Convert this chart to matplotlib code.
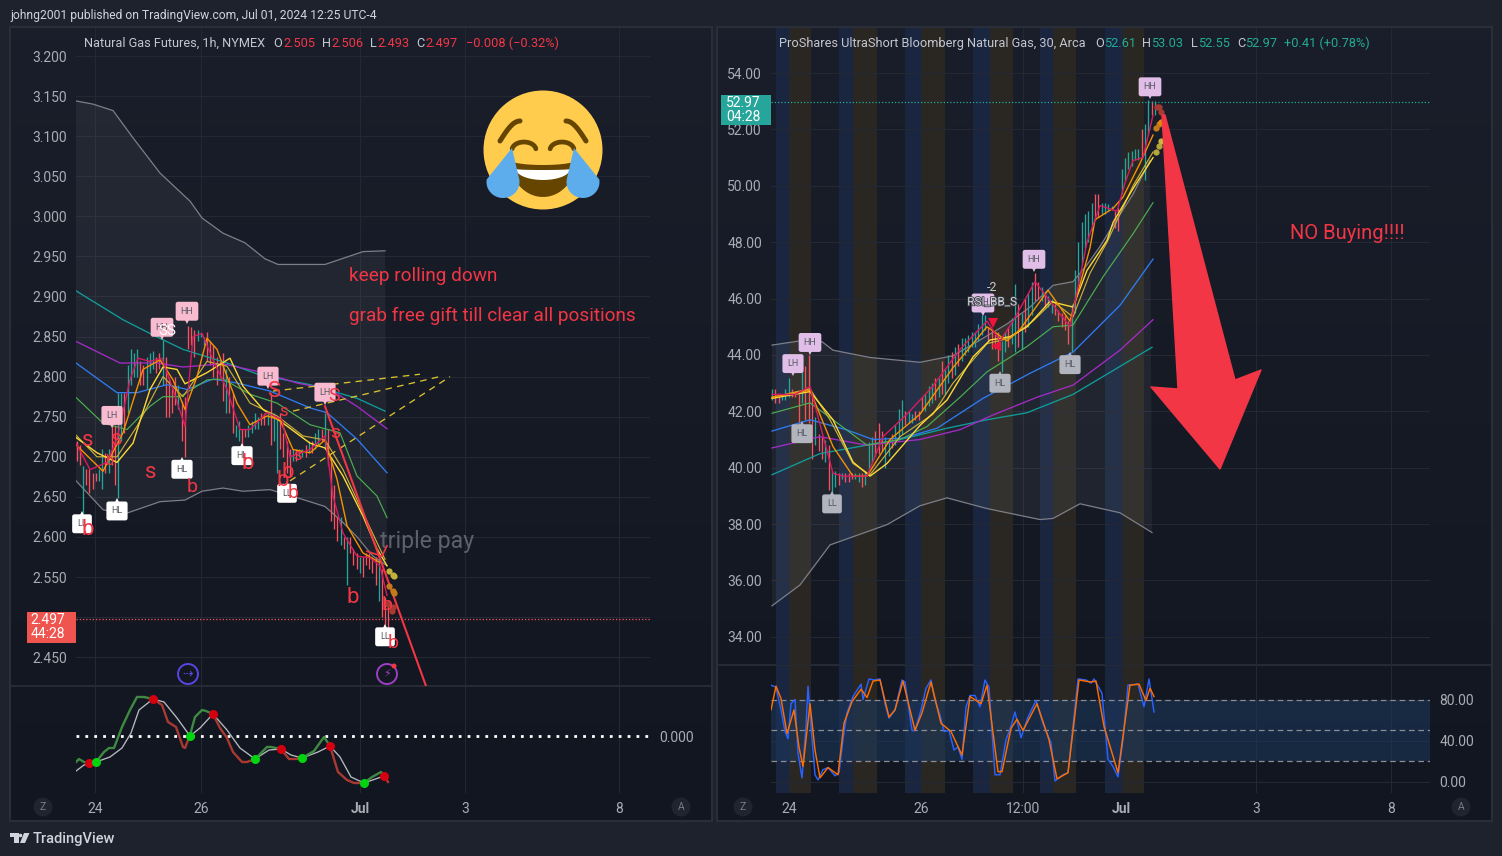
import numpy as np
import matplotlib
matplotlib.use("Agg")
import matplotlib.pyplot as plt
import matplotlib.patheffects as pe
import matplotlib.transforms as mtrans
from matplotlib.patches import Circle, Polygon, Rectangle

W, H = 1502, 856
plt.rcParams['font.family'] = ['Roboto', 'DejaVu Sans']

GRID = "#242833"
TICK = "#a9acb5"
RED = "#f23645"
TEAL = "#22ab94"
BAR_UP = "#26a69a"
BAR_DOWN = "#f7525f"

# ---- left chart, x = bar slot counted from the 24 tick
l_ticks = [0, 106, 265, 370, 524]
l_tick_labels = ["24", "26", "Jul", "3", "8"]
l_prices = [3.2, 3.15, 3.1, 3.05, 3.0, 2.95, 2.9, 2.85, 2.8, 2.75, 2.7, 2.65, 2.6, 2.55, 2.5, 2.45]
l_price_labels = ["3.200", "3.150", "3.100", "3.050", "3.000", "2.950", "2.900", "2.850", "2.800",
                  "2.750", "2.700", "2.650", "2.600", "2.550", "", "2.450"]

l_high = [2.72, 2.715, 2.689, 2.685, 2.685, 2.68, 2.68, 2.685, 2.71, 2.705, 2.71, 2.74, 2.74, 2.78, 2.78, 2.78,
          2.815, 2.835, 2.83, 2.835, 2.82, 2.815, 2.825, 2.83, 2.832, 2.825, 2.83, 2.846, 2.825, 2.8, 2.79, 2.8,
          2.79, 2.77, 2.775, 2.863, 2.862, 2.858, 2.858, 2.855, 2.85, 2.856, 2.845, 2.84, 2.825, 2.82, 2.83, 2.81,
          2.8, 2.78, 2.74, 2.745, 2.735, 2.735, 2.74, 2.745, 2.755, 2.75, 2.755, 2.755, 2.755, 2.78, 2.755, 2.75,
          2.755, 2.73, 2.72, 2.71, 2.71, 2.71, 2.71, 2.71, 2.715, 2.72, 2.72, 2.73, 2.735, 2.735, 2.755, 2.735,
          2.7, 2.665, 2.625, 2.625, 2.6, 2.6, 2.6, 2.585, 2.58, 2.575, 2.575, 2.58, 2.58, 2.575, 2.575, 2.575,
          2.56, 2.525, 2.52]
l_low = [2.695, 2.69, 2.63, 2.665, 2.655, 2.66, 2.67, 2.67, 2.66, 2.68, 2.68, 2.69, 2.665, 2.648, 2.72, 2.73,
         2.755, 2.79, 2.8, 2.8, 2.79, 2.79, 2.785, 2.805, 2.81, 2.805, 2.81, 2.79, 2.75, 2.75, 2.755, 2.765,
         2.76, 2.72, 2.7, 2.835, 2.84, 2.825, 2.845, 2.85, 2.84, 2.82, 2.815, 2.8, 2.79, 2.8, 2.77, 2.755,
         2.755, 2.73, 2.725, 2.72, 2.7, 2.725, 2.725, 2.73, 2.735, 2.735, 2.74, 2.74, 2.74, 2.715, 2.72, 2.68,
         2.71, 2.7, 2.68, 2.675, 2.695, 2.695, 2.7, 2.7, 2.7, 2.705, 2.705, 2.71, 2.715, 2.72, 2.71, 2.69,
         2.62, 2.61, 2.595, 2.59, 2.585, 2.54, 2.58, 2.565, 2.56, 2.555, 2.55, 2.565, 2.56, 2.555, 2.54, 2.52,
         2.5, 2.49, 2.48]
# u = up bar, d = down bar
l_dir = ("ddudddduud" "udduuduuuu" "dduuuddudd" "dduddddduu" "uddddddudd"
         "uudduuuudd" "uduuddddud" "uududuudud" "dddududddu" "ddddduddd")

l_up_x = [-19, -2, 18, 38, 65, 95, 107, 128, 150, 170, 183, 230, 268, 290]
l_up_y = [3.144, 3.14, 3.132, 3.098, 3.054, 3.019, 2.998, 2.979, 2.967, 2.947, 2.94, 2.94, 2.956, 2.957]
l_lo_x = [-19, 8, 28, 65, 90, 107, 128, 148, 175, 202, 230, 248, 262, 278, 292]
l_lo_y = [2.67, 2.634, 2.628, 2.644, 2.646, 2.657, 2.661, 2.657, 2.659, 2.649, 2.638, 2.618, 2.6, 2.576, 2.564]
l_teal_x = [-19, 28, 58, 88, 132, 165, 215, 262, 290]
l_teal_y = [2.907, 2.871, 2.852, 2.834, 2.817, 2.802, 2.79, 2.773, 2.757]
l_purple_x = [-19, 25, 62, 88, 128, 168, 202, 235, 262, 292]
l_purple_y = [2.844, 2.817, 2.817, 2.812, 2.816, 2.805, 2.792, 2.784, 2.763, 2.735]
l_blue_x = [-19, 22, 42, 72, 92, 118, 142, 175, 215, 232, 262, 292]
l_blue_y = [2.817, 2.78, 2.78, 2.79, 2.784, 2.797, 2.792, 2.782, 2.761, 2.755, 2.722, 2.68]
l_green_x = [-19, 8, 32, 55, 68, 85, 112, 128, 155, 182, 215, 245, 262, 282, 292]
l_green_y = [2.774, 2.742, 2.734, 2.763, 2.775, 2.775, 2.796, 2.797, 2.778, 2.767, 2.74, 2.73, 2.676, 2.651, 2.624]
l_yellow_x = [-19, 2, 22, 38, 55, 68, 82, 90, 112, 135, 148, 168, 188, 215, 230, 248, 268, 282, 292]
l_yellow_y = [2.724, 2.705, 2.693, 2.717, 2.784, 2.812, 2.809, 2.791, 2.805, 2.823, 2.788, 2.759, 2.742, 2.717,
              2.711, 2.676, 2.626, 2.585, 2.564]
l_gold_x = [-19, 2, 22, 42, 68, 88, 112, 132, 155, 182, 208, 230, 248, 268, 282, 290]
l_gold_y = [2.727, 2.7, 2.7, 2.738, 2.8, 2.775, 2.819, 2.813, 2.767, 2.751, 2.726, 2.721, 2.684, 2.63, 2.593, 2.572]
l_orange_x = [-19, 8, 28, 48, 65, 78, 90, 102, 112, 122, 142, 155, 172, 185, 198, 215, 230, 242, 252, 268, 285]
l_orange_y = [2.715, 2.682, 2.73, 2.809, 2.821, 2.796, 2.759, 2.8, 2.848, 2.834, 2.767, 2.74, 2.751, 2.746, 2.709,
              2.705, 2.721, 2.672, 2.614, 2.58, 2.568]
l_crimson_x = [-19, -5, 12, 22, 35, 43, 55, 67, 78, 90, 98, 107, 118, 132, 145, 155, 172, 187, 195, 215, 230, 238,
               248, 262, 275, 285, 292]
l_crimson_y = [2.717, 2.684, 2.693, 2.722, 2.796, 2.823, 2.819, 2.823, 2.784, 2.738, 2.85, 2.854, 2.821, 2.784,
               2.734, 2.734, 2.755, 2.746, 2.7, 2.709, 2.726, 2.651, 2.605, 2.576, 2.574, 2.564, 2.527]

l_wt_fast_x = [-19, -16, -11, -6, 1, 9, 14, 19, 27, 35, 42, 49, 58, 67, 73, 81, 88, 90, 95, 100, 107, 111, 118, 125,
               132, 138, 147, 152, 160, 172, 176, 186, 194, 201, 207, 219, 229, 235, 243, 252, 259, 269, 277, 286,
               289, 293]
l_wt_fast_y = [-26, -23, -26, -27, -26, -16, -12, -12, 9, 26, 39, 39, 37, 31, 14, 9, -11, -12, 1, 19, 26, 25, 22, 8,
               -2, -16, -26, -26, -23, -11, -11, -13, -23, -23, -22, -15, -1, -10, -36, -44, -47, -47, -41, -36,
               -40, -46]
l_wt_slow_x = [-19, -11, 1, 15, 27, 36, 44, 58, 69, 82, 95, 105, 118, 132, 145, 160, 174, 186, 196, 207, 223, 235,
               245, 256, 269, 289]
l_wt_slow_y = [-35, -29, -26, -21, -12, 3, 26, 37, 34, 18, 0, 8, 22, 6, -12, -23, -14, -13, -19, -22, -16, -10, -21,
               -41, -47, -40]
l_cross_x = [-6, 1, 58, 95, 118, 160, 186, 207, 235, 269, 289]
l_cross_y = [-27, -26, 37, 0, 22, -23, -13, -22, -10, -47, -40]
l_cross_up = [0, 1, 0, 1, 0, 1, 0, 1, 0, 1, 0]

l_tags = [(-13, 2.632, "LL", 0), (22, 2.648, "HL", 0), (67, 2.846, "HH", 1), (92, 2.866, "HH", 1), (17, 2.736, "LH", 1),
          (87, 2.70, "HL", 0), (147, 2.717, "HL", 0), (173, 2.785, "LH", 1), (192, 2.67, "LL", 0),
          (230, 2.765, "LH", 1), (290, 2.491, "LL", 0)]
l_notes = [(-7, 2.72, "s", 16), (22, 2.722, "s", 16), (56, 2.68, "s", 16), (-7, 2.609, "b", 16), (97, 2.662, "b", 14),
           (153, 2.692, "b", 16), (179, 2.781, "S", 16), (188, 2.757, "s", 12), (193, 2.68, "b", 16),
           (188, 2.671, "b", 16), (198, 2.655, "b", 14), (202, 2.702, "s", 12), (239, 2.776, "S", 14),
           (240, 2.73, "s", 14), (258, 2.525, "b", 16), (292, 2.515, "b", 14), (298, 2.468, "b", 14),
           (15, 2.695, "b", 10)]

# yellow fan and the red drawn trend
fan_x = [[178, 325], [198, 348], [195, 355]]
fan_y = [[2.782, 2.803], [2.757, 2.801], [2.67, 2.80]]
trend_x = [230, 331]
trend_y = [2.763, 2.414]
check_x = [272, 287, 292]
check_y = [2.582, 2.576, 2.589]
l_dots = [(294, 2.558, "#c2b13a"), (298, 2.553, "#c2b13a"), (299, 2.551, "#c2b13a"),
          (294, 2.539, "#c27a1a"), (298, 2.533, "#c27a1a"), (299, 2.53, "#c27a1a"),
          (293, 2.516, "#a83a32"), (298, 2.512, "#a83a32"), (297, 2.507, "#a83a32")]

# ---- right chart
r_ticks = [0, 132, 234, 332, 467, 602]
r_tick_labels = ["24", "26", "12:00", "Jul", "3", "8"]
r_prices = [54, 52, 50, 48, 46, 44, 42, 40, 38, 36, 34]
r_high = [42.8, 42.8, 42.6, 42.6, 42.8, 43.2, 42.8, 42.7, 42.6, 43.4, 43.6, 44.0, 42.6, 41.8, 41.2, 41.1, 41.0, 40.8,
          39.9, 39.9, 39.8, 39.8, 39.8, 39.8, 39.8, 39.8, 39.8, 39.8, 39.9, 40.9, 41.1, 41.3, 41.6, 41.3, 41.1, 41.0,
          41.2, 41.5, 42.1, 42.4, 42.0, 42.0, 41.9, 42.0, 42.0, 42.5, 42.6, 42.9, 43.0, 43.2, 43.2, 43.8, 43.5, 44.0,
          44.1, 44.3, 44.4, 44.6, 44.6, 44.7, 44.8, 44.8, 45.1, 45.4, 45.4, 45.0, 44.9, 44.8, 44.8, 44.5, 44.8, 45.0,
          45.3, 46.5, 45.8, 45.5, 46.0, 46.2, 46.6, 46.9, 46.6, 46.4, 46.2, 46.1, 46.0, 45.8, 45.6, 45.5, 45.4, 45.2,
          45.8, 47.0, 48.0, 48.7, 49.0, 49.1, 49.4, 49.7, 49.7, 49.4, 49.4, 49.35, 49.3, 49.1, 49.2, 50.6, 51.0, 51.2,
          51.25, 51.3, 51.3, 52.0, 52.2, 53.03, 53.0, 53.0]
r_low = [42.4, 42.3, 42.3, 42.4, 42.4, 42.5, 42.5, 42.5, 41.3, 42.3, 41.7, 41.6, 40.3, 40.8, 40.6, 40.3, 40.2, 39.2,
         39.0, 39.3, 39.4, 39.6, 39.5, 39.5, 39.6, 39.6, 39.5, 39.3, 39.4, 39.9, 40.2, 40.4, 40.5, 40.6, 40.0, 40.4,
         40.7, 40.8, 41.0, 41.2, 41.5, 41.6, 41.6, 41.7, 41.7, 42.0, 42.0, 42.2, 42.3, 42.4, 42.5, 42.6, 42.6, 43.0,
         43.2, 43.3, 43.6, 43.8, 44.0, 44.1, 44.3, 44.3, 44.5, 44.7, 44.9, 44.5, 44.2, 44.2, 43.8, 43.4, 44.1, 44.3,
         44.4, 44.1, 44.3, 44.2, 44.8, 45.0, 45.4, 45.9, 46.0, 45.9, 45.7, 45.7, 45.5, 45.4, 45.2, 45.0, 44.9, 44.4,
         44.1, 45.5, 46.5, 47.2, 47.8, 48.0, 48.4, 48.8, 48.9, 49.0, 49.0, 49.1, 49.15, 48.5, 48.4, 49.7, 50.2, 50.6,
         50.7, 50.9, 50.9, 51.0, 50.2, 51.8, 52.5, 52.5]
r_dir = ("udduuudddu" "dddudduduu" "duddduuduu" "uddduuduuu" "duuddduuud" "uduududuuu"
         "uuuuuddddu" "uduududuud" "duduuddddd" "uuuuuuuddu" "uuudduuuuu" "uduudu")

r_up_x = [-17, 11, 33, 44, 81, 131, 164, 191, 218, 241, 264, 284, 298, 311, 324, 344, 361]
r_up_y = [44.35, 44.5, 44.47, 44.17, 43.91, 43.74, 43.97, 44.53, 45.1, 45.7, 46.47, 46.6, 47.2, 47.85, 48.6, 49.7, 50.9]
r_lo_x = [-17, 11, 41, 64, 98, 131, 158, 198, 251, 264, 291, 331, 363]
r_lo_y = [35.1, 35.84, 37.26, 37.55, 37.98, 38.65, 38.93, 38.55, 38.16, 38.2, 38.72, 38.4, 37.7]
r_teal_x = [-17, 31, 78, 111, 158, 198, 238, 284, 363]
r_teal_y = [39.75, 40.5, 40.8, 41.0, 41.4, 41.7, 41.95, 42.6, 44.27]
r_purple_x = [-17, 31, 78, 131, 171, 204, 248, 284, 331, 364]
r_purple_y = [40.7, 41.1, 40.8, 41.0, 41.35, 41.87, 42.5, 42.93, 44.17, 45.25]
r_blue_x = [-17, 21, 58, 84, 114, 148, 194, 241, 284, 331, 364]
r_blue_y = [41.3, 41.7, 41.34, 41.0, 41.05, 41.4, 42.46, 43.35, 44.1, 45.76, 47.4]
r_green_x = [-17, 21, 44, 78, 111, 138, 171, 198, 238, 264, 284, 314, 344, 364]
r_green_y = [41.93, 42.3, 41.7, 40.8, 41, 41.46, 42.5, 43.4, 44.3, 45, 45.06, 46.77, 48.3, 49.4]
r_yellow_x = [-17, 21, 44, 64, 81, 98, 131, 158, 184, 201, 221, 238, 261, 284, 298, 318, 324, 344, 364]
r_yellow_y = [42.46, 42.7, 41.7, 40.2, 39.7, 40.15, 41.5, 42.4, 43.93, 44.53, 44.65, 45, 45.9, 45.7, 47, 48.06, 48.7,
              49.9, 51]
r_gold_x = [-17, 21, 41, 64, 81, 111, 144, 164, 198, 221, 244, 264, 284, 301, 318, 344, 364]
r_gold_y = [42.5, 42.8, 41.7, 40.15, 39.75, 41.1, 41.9, 43, 44.4, 44.6, 45.2, 45.9, 45.35, 46.9, 48, 50, 51.2]
r_orange_x = [-17, 21, 44, 64, 78, 101, 131, 164, 198, 218, 231, 259, 281, 301, 306, 324, 334, 351, 364]
r_orange_y = [42.5, 42.75, 40.75, 39.7, 39.7, 41, 41.9, 43.55, 45, 44.5, 44.9, 46.3, 45.2, 47.8, 48.8, 49.2, 49.6,
              50.8, 51.8]
r_crimson_x = [-17, 6, 21, 44, 54, 78, 94, 118, 144, 171, 198, 211, 224, 246, 281, 298, 311, 328, 336, 344, 354, 364]
r_crimson_y = [42.6, 42.6, 42.88, 39.8, 39.7, 39.7, 41.1, 41.9, 42.9, 44.2, 45.2, 44.5, 45.2, 46.6, 45, 48, 49.3,
               49.1, 50.1, 50.9, 51, 52.5]

stoch_k_x = [-18, -13, -8, -4, -1, 2, 6, 9, 13, 17, 19, 22, 26, 29, 34, 39, 46, 50, 54, 58, 64, 72, 74, 80, 85, 91, 96,
             100, 106, 113, 116, 123, 126, 132, 137, 142, 146, 151, 155, 160, 165, 169, 173, 177, 181, 186, 191, 196,
             200, 206, 211, 217, 222, 226, 232, 239, 247, 254, 262, 266, 274, 279, 284, 289, 297, 302, 305, 313, 319,
             324, 329, 334, 339, 349, 355, 360, 365]
stoch_k_y = [94, 92, 70, 49, 42, 76, 80, 28, 4, 54, 93, 54, 7, 2, 12, 14, 6, 9, 41, 67, 83, 95, 80, 100, 99, 100, 76,
             62, 70, 99, 97, 50, 50, 70, 91, 99, 79, 65, 49, 50, 31, 34, 22, 73, 84, 84, 73, 99, 92, 7, 7, 41, 54, 68,
             43, 63, 79, 57, 38, 1, 7, 9, 54, 100, 99, 96, 100, 86, 22, 15, 5, 41, 94, 95, 73, 100, 68]
stoch_d_x = [-18, -13, -8, -2, 5, 10, 14, 21, 26, 31, 39, 49, 55, 63, 72, 78, 84, 91, 100, 106, 114, 126, 133, 142,
             152, 162, 173, 181, 192, 198, 209, 213, 222, 228, 234, 248, 260, 268, 279, 290, 302, 307, 315, 329, 341,
             350, 357, 361, 365]
stoch_d_y = [70, 93, 81, 47, 70, 34, 15, 76, 31, 4, 14, 7, 57, 78, 90, 82, 98, 99, 63, 70, 98, 50, 67, 97, 57, 49, 26,
             83, 76, 94, 10, 10, 52, 61, 50, 76, 41, 3, 9, 99, 97, 98, 54, 9, 94, 95, 79, 91, 83]

blue_bands = [(-13, 1), (50, 64), (116, 133), (184, 201), (251, 264), (316, 334)]
brown_bands = [(1, 22), (64, 88), (133, 156), (201, 224), (264, 287), (334, 355)]

r_tags = [(4, 43.25, "LH", 1), (21, 44.0, "HH", 1), (13, 41.65, "HL", 0), (43, 39.16, "LL", 0), (194, 45.4, "HH", 1),
          (211, 43.44, "HL", 0), (245, 46.95, "HH", 1), (281, 44.1, "HL", 0), (361, 53.07, "HH", 1)]
r_dots = [(368, 52.8, "#a83a32"), (370, 52.78, "#a83a32"), (372, 52.63, "#a83a32"),
          (367, 52.04, "#c27a1a"), (370, 52.2, "#c27a1a"), (372, 52.27, "#e08a10"),
          (367, 51.2, "#b5a63a"), (370, 51.4, "#b5a63a"), (372, 51.6, "#c9b840")]

fig = plt.figure(figsize=(W / 100, H / 100), dpi=100, facecolor="#1e222d")


def px_axes(x0, y0, x1, y1, z=2):
    a = fig.add_axes([x0 / W, 1 - y1 / H, (x1 - x0) / W, (y1 - y0) / H], zorder=z)
    a.patch.set_alpha(0)
    for s in a.spines.values():
        s.set_visible(False)
    return a


# background with the panels
bg = px_axes(0, 0, W, H, 0)
bg.set_xlim(0, W)
bg.set_ylim(H, 0)
bg.axis("off")
shade = np.linspace(0, 1, 64).reshape(-1, 1)
top_c = np.array(matplotlib.colors.to_rgb("#1a1e2a"))
bot_c = np.array(matplotlib.colors.to_rgb("#121620"))
shade_img = (top_c + (bot_c - top_c) * shade)[:, None, :]
for x0, x1 in [(10, 712), (717, 1492)]:
    bg.imshow(shade_img, extent=(x0, x1, 821, 27), aspect="auto", zorder=1)
    bg.add_patch(Rectangle((x0, 27), x1 - x0, 794, fill=False, ec="#2a2e39", lw=1.5, zorder=2))
    bg.plot([x0, x1], [686 if x0 == 10 else 665] * 2, color="#2a2e39", lw=1.2, zorder=2)
bg.set_xlim(0, W)
bg.set_ylim(H, 0)
bg.text(10, 15, "johng2001 published on TradingView.com, Jul 01, 2024 12:25 UTC-4", color="#d1d4dc",
        fontsize=8.75, va="center")
bg.text(33, 839, "TradingView", color="#d1d4dc", fontsize=10.5, va="center", fontweight="medium")
bg.add_patch(Polygon([(10, 833), (18.5, 833), (18.5, 843), (14, 843), (14, 837), (10, 837)], color="#d1d4dc", lw=0))
bg.add_patch(Polygon([(20, 843), (24, 833), (29.5, 833), (25, 843)], color="#d1d4dc", lw=0))
bg.add_patch(Circle((20.5, 835.5), 1.8, color="#d1d4dc", lw=0))
for cx, lab in [(43, "Z"), (681, "A"), (743, "Z"), (1461, "A")]:
    bg.add_patch(Circle((cx, 807), 9.5, color="#20242f", lw=0, zorder=3))
    bg.text(cx, 807, lab, color="#787b86", fontsize=7.5, ha="center", va="center", zorder=4)


def style(a, xlim, ylim, xt, yt):
    a.set_xlim(*xlim)
    a.set_ylim(*ylim)
    a.set_xticks(xt)
    a.set_yticks(yt)
    a.grid(True, color=GRID, lw=0.8)
    a.set_axisbelow(True)
    a.tick_params(length=0, labelcolor=TICK, labelsize=10)


def draw_bars(a, start, step, high, low, dirs):
    xs = start + step * np.arange(len(high))
    ups = np.array([c == "u" for c in dirs])
    high, low = np.array(high), np.array(low)
    a.vlines(xs[ups], low[ups], high[ups], color=BAR_UP, lw=0.95, zorder=3)
    a.vlines(xs[~ups], low[~ups], high[~ups], color=BAR_DOWN, lw=0.95, zorder=3)


def draw_tag(a, x, y, text, color, is_high):
    sign = 1 if is_high else -1
    tri = mtrans.offset_copy(a.transData, fig=fig, x=0, y=sign * 3.5, units="points")
    a.plot([x], [y], marker="v" if is_high else "^", ms=7, color=color, mew=0, transform=tri, zorder=6, clip_on=False)
    a.annotate(text, (x, y), xytext=(0, sign * 9), textcoords="offset points", ha="center", va="center",
               fontsize=6.5, color="#555963", zorder=7, annotation_clip=False,
               bbox=dict(boxstyle="round,pad=0.55,rounding_size=0.25", fc=color, ec=color, lw=0))


# ---- left main pane
ax1 = px_axes(76, 28, 650, 686)
style(ax1, (-19, 555), (2.414, 3.235), l_ticks, l_prices)
ax1.set_xticklabels([])
ax1.set_yticklabels(l_price_labels)
ax1.tick_params(axis="y", pad=6.5)
ax1.fill(np.r_[l_up_x, l_lo_x[::-1]], np.r_[l_up_y, l_lo_y[::-1]], color="white", alpha=0.05, lw=0, zorder=1)
ax1.plot(l_up_x, l_up_y, color="#7d7f87", lw=0.9, zorder=2)
ax1.plot(l_lo_x, l_lo_y, color="#7d7f87", lw=0.9, zorder=2)
draw_bars(ax1, -18.3, 3.18, l_high, l_low, l_dir)
ax1.plot(l_teal_x, l_teal_y, color="#0f9d9a", lw=0.95, zorder=4)
ax1.plot(l_purple_x, l_purple_y, color="#a32cc4", lw=0.95, zorder=4)
ax1.plot(l_blue_x, l_blue_y, color="#2f7bf0", lw=0.95, zorder=4)
ax1.plot(l_green_x, l_green_y, color="#4caf50", lw=0.85, zorder=4)
ax1.plot(l_gold_x, l_gold_y, color="#c9b037", lw=0.85, zorder=4)
ax1.plot(l_yellow_x, l_yellow_y, color="#fdd835", lw=1.0, zorder=4)
ax1.plot(l_orange_x, l_orange_y, color="#f59300", lw=1.0, zorder=4)
ax1.plot(l_crimson_x, l_crimson_y, color="#d81b60", lw=1.0, zorder=4)
for fx, fy in zip(fan_x, fan_y):
    ax1.plot(fx, fy, color="#d9c22e", lw=0.95, ls=(0, (5, 4)), zorder=4)
ax1.plot(trend_x, trend_y, color=RED, lw=1.5, zorder=5)
ax1.plot(check_x, check_y, color=RED, lw=1.2, zorder=5)
ax1.axhline(2.497, color="#f7525f", lw=0.9, ls=(0, (1, 1.6)), zorder=3)
for dx, dy, dc in l_dots:
    ax1.plot([dx], [dy], "o", ms=4.5, color=dc, mew=0, zorder=5)
for tx, ty, lab, hi in l_tags:
    draw_tag(ax1, tx, ty, lab, "#f8bbd0" if hi else "white", hi)
for nx, ny, lab, size in l_notes:
    ax1.text(nx, ny, lab, color=RED, fontsize=size, ha="center", va="center", zorder=8)
ax1.text(72, 2.857, "SS", color="white", fontsize=11, ha="center", va="center", zorder=8)
ax1.text(285, 2.594, "triple pay", color="#5d606b", fontsize=16.7, va="center", zorder=3)
ax1.text(254, 2.926, "keep rolling down", color=RED, fontsize=13.7, va="center", zorder=8)
ax1.text(254, 2.876, "grab free gift till clear all positions", color=RED, fontsize=13.7, va="center", zorder=8)

# ---- left oscillator
ax2 = px_axes(76, 687, 650, 793)
style(ax2, (-19, 555), (-57, 49), l_ticks, [0])
ax2.set_xticklabels(l_tick_labels)
ax2.get_xticklabels()[2].set_fontweight("bold")
ax2.set_yticklabels(["0.000"])
ax2.yaxis.tick_right()
ax2.tick_params(axis="y", pad=6.5)
ax2.tick_params(axis="x", pad=6.5)
ax2.grid(False, axis="y")
ax2.axhline(0, color="white", lw=2, ls=(0, (1, 2.2)), zorder=2)
ax2.plot(l_wt_slow_x, l_wt_slow_y, color="#b8bac0", lw=0.95, zorder=3)
fast_x = np.array(l_wt_fast_x)
fast_y = np.array(l_wt_fast_y)
edges = [-19] + l_cross_x + [293]
for i in range(len(edges) - 1):
    seg = (fast_x >= edges[i]) & (fast_x <= edges[i + 1])
    ax2.plot(fast_x[seg], fast_y[seg], color="#a83a32" if i % 2 else "#3f8a42", lw=1.7, zorder=4)
for cx, cy, up in zip(l_cross_x, l_cross_y, l_cross_up):
    ax2.plot([cx], [cy], "o", ms=6.5, mew=0, color="#00d50f" if up else "#d5000f", zorder=5)

# ---- right main pane
ax3 = px_axes(771, 28, 1430, 665)
style(ax3, (-18, 641), (33.0, 55.6), r_ticks, r_prices)
ax3.set_xticklabels([])
ax3.set_yticklabels(["%.2f" % p for p in r_prices])
ax3.tick_params(axis="y", pad=6.5)

ax4 = px_axes(771, 666, 1430, 793)
style(ax4, (-18, 641), (-10.7, 112.6), r_ticks, [0, 40, 80])
ax4.set_xticklabels(r_tick_labels)
ax4.get_xticklabels()[3].set_fontweight("bold")
ax4.set_yticklabels(["0.00", "40.00", "80.00"])
ax4.yaxis.tick_right()
ax4.tick_params(axis="y", pad=7)
ax4.tick_params(axis="x", pad=6.5)

for a in (ax3, ax4):
    for b0, b1 in blue_bands:
        a.axvspan(b0, b1, color="#1a2540", lw=0, zorder=0.5)
    for b0, b1 in brown_bands:
        a.axvspan(b0, b1, color="#2a2723", lw=0, zorder=0.5)

ax3.fill(np.r_[r_up_x, r_lo_x[::-1]], np.r_[r_up_y, r_lo_y[::-1]], color="white", alpha=0.05, lw=0, zorder=1)
ax3.plot(r_up_x, r_up_y, color="#7d7f87", lw=0.9, zorder=2)
ax3.plot(r_lo_x, r_lo_y, color="#7d7f87", lw=0.9, zorder=2)
draw_bars(ax3, -17, 3.33, r_high, r_low, r_dir)
ax3.plot(r_teal_x, r_teal_y, color="#0f9d9a", lw=0.95, zorder=4)
ax3.plot(r_purple_x, r_purple_y, color="#a32cc4", lw=0.95, zorder=4)
ax3.plot(r_blue_x, r_blue_y, color="#2f7bf0", lw=0.95, zorder=4)
ax3.plot(r_green_x, r_green_y, color="#4caf50", lw=0.85, zorder=4)
ax3.plot(r_gold_x, r_gold_y, color="#c9b037", lw=0.85, zorder=4)
ax3.plot(r_yellow_x, r_yellow_y, color="#fdd835", lw=1.0, zorder=4)
ax3.plot(r_orange_x, r_orange_y, color="#f59300", lw=1.0, zorder=4)
ax3.plot(r_crimson_x, r_crimson_y, color="#d81b60", lw=1.0, zorder=4)
ax3.axhline(52.97, color=TEAL, lw=0.9, ls=(0, (1, 1.6)), zorder=3)
for dx, dy, dc in r_dots:
    ax3.plot([dx], [dy], "o", ms=4.5, color=dc, mew=0, zorder=5)
for tx, ty, lab, hi in r_tags:
    draw_tag(ax3, tx, ty, lab, "#e1bee7" if hi else "#b2b5be", hi)
halo = [pe.withStroke(linewidth=1.2, foreground="#3a3d46")]
ax3.text(203, 46.38, "-2", color="#c8cad0", fontsize=9, ha="center", va="center", zorder=8)
ax3.text(203, 45.88, "RSI_BB_S", color="#d4d6dc", fontsize=8.5, ha="center", va="center", zorder=8, path_effects=halo)
ax3.plot([204], [45.13], "v", ms=7, color="#f0143c", mew=0, zorder=8)
ax3.plot([207], [44.32], "<", ms=7, color="#f0143c", mew=0, zorder=8)
ax3.text(501, 48.3, "NO Buying!!!!", color=RED, fontsize=14.5, va="center", zorder=8)

ax4.axhspan(20, 80, color="#1c3a5e", alpha=0.55, lw=0, zorder=1)
for level in (80, 50, 20):
    ax4.axhline(level, color="#8a8d96", lw=0.9, ls=(0, (4.5, 3)), zorder=2)
ax4.plot(stoch_k_x, stoch_k_y, color="#2962ff", lw=1.05, zorder=3)
ax4.plot(stoch_d_x, stoch_d_y, color="#ff6d00", lw=1.05, zorder=4)

# ---- top layer: price boxes, legends, drawings, emoji
top = px_axes(0, 0, W, H, 5)
top.set_xlim(0, W)
top.set_ylim(H, 0)
top.axis("off")

top.add_patch(Rectangle((27, 612), 49, 31, color="#f0544f", lw=0))
top.text(48, 620.5, "2.497", color="white", fontsize=10, ha="center", va="center")
top.text(48, 634.5, "44:28", color="white", fontsize=10, ha="center", va="center")
top.add_patch(Rectangle((721, 95), 50, 30, color="#26a69a", lw=0))
top.text(743, 102.5, "52.97", color="white", fontsize=10, ha="center", va="center")
top.text(743, 116.5, "04:28", color="white", fontsize=10, ha="center", va="center")

legend_left = [(84, "Natural Gas Futures, 1h, NYMEX", "#c4c6ce"), (273, "O", "#c4c6ce"), (283, "2.505", RED),
               (322, "H", "#c4c6ce"), (331, "2.506", RED), (370, "L", "#c4c6ce"), (377, "2.493", RED),
               (416, "C", "#c4c6ce"), (425, "2.497", RED), (466, "\u22120.008 (\u22120.32%)", RED)]
legend_right = [(779, "ProShares UltraShort Bloomberg Natural Gas, 30, Arca", "#c4c6ce"), (1095, "O", "#c4c6ce"),
                (1104, "52.61", TEAL), (1142, "H", "#c4c6ce"), (1151, "53.03", TEAL), (1191, "L", "#c4c6ce"),
                (1198, "52.55", TEAL), (1237, "C", "#c4c6ce"), (1245, "52.97", TEAL),
                (1284, "+0.41 (+0.78%)", TEAL)]
for lx, lab, lc in legend_left + legend_right:
    top.text(lx, 43, lab, color=lc, fontsize=9.2, va="center")

# event icons on the left chart
top.add_patch(Circle((188, 674), 10, fill=False, ec="#5b45e0", lw=1.4))
top.text(188, 674, "\u21e2", color="#5b45e0", fontsize=9, ha="center", va="center")
top.add_patch(Circle((387, 674), 10, fill=False, ec="#9c3fc4", lw=1.4))
top.text(387, 674, "\u26a1", color="#9c3fc4", fontsize=8, ha="center", va="center")
top.add_patch(Circle((394, 666), 2.5, color=RED, lw=0))

# big red arrow
top.add_patch(Polygon([(1162, 115), (1178, 389), (1151, 387), (1220, 469), (1261, 370), (1235, 380), (1165, 115)],
                      closed=True, color=RED, lw=1, joinstyle="round", zorder=6))

# crying laughing face
EMOJI_X, EMOJI_Y = 543, 150
top.add_patch(Circle((EMOJI_X, EMOJI_Y), 59.5, color="#ffcc4d", lw=0, zorder=7))
mouth_t = np.linspace(np.pi, 0, 40)
mouth_top = np.c_[EMOJI_X + 33 * np.cos(mouth_t[::-1]), 160 + 5 * np.sin(mouth_t)]
mouth_bot = np.c_[EMOJI_X + 33 * np.cos(mouth_t), 160 + 37 * np.sin(mouth_t)]
top.add_patch(Polygon(np.r_[mouth_top, mouth_bot], color="#664500", lw=0, zorder=8))
teeth_top = np.c_[EMOJI_X + 27 * np.cos(mouth_t[::-1]), 169 + 1 * np.sin(mouth_t)]
teeth_bot = np.c_[EMOJI_X + 27 * np.cos(mouth_t), 169 + 11 * np.sin(mouth_t)]
top.add_patch(Polygon(np.r_[teeth_top, teeth_bot], color="white", lw=0, zorder=9))
for side in (-1, 1):
    brow_t = np.linspace(0, 1, 20)
    bx = EMOJI_X + side * (43 - 20 * brow_t)
    by = 141 - 20 * np.sin(brow_t * np.pi / 2)
    top.plot(bx, by, color="#664500", lw=3.6, solid_capstyle="round", zorder=8)
    eye_t = np.linspace(0.15, np.pi - 0.15, 20)
    top.plot(EMOJI_X + side * 19 + 12 * np.cos(eye_t), 150 - 8 * np.sin(eye_t), color="#664500", lw=3.4,
             solid_capstyle="round", zorder=8)
    drop_t = np.linspace(-0.55 * np.pi, 0.55 * np.pi, 40)
    drop_cx = EMOJI_X + side * 40
    drop_x = drop_cx + side * 16.5 * np.sin(drop_t)
    drop_y = 182 + 16 * np.cos(drop_t)
    tear = np.r_[np.c_[drop_x, drop_y], [[EMOJI_X + side * 31, 148]]]
    top.add_patch(Polygon(tear, color="#5dadec", lw=0, zorder=10))

fig.savefig("out.png", dpi=100, facecolor=fig.get_facecolor())
